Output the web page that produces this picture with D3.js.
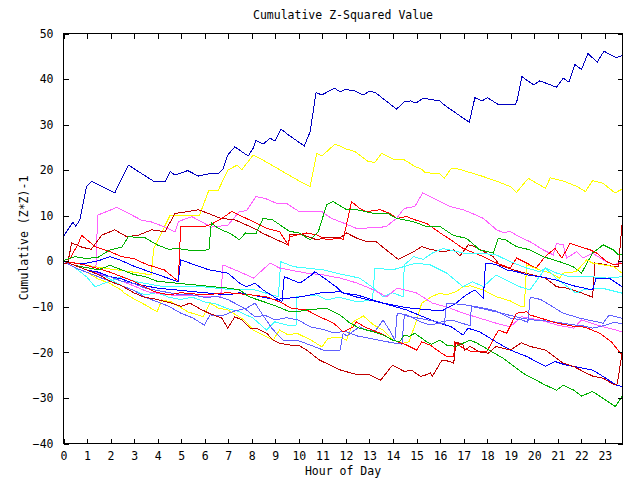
<!DOCTYPE html>
<html><head><meta charset="utf-8">
<script src="https://cdn.jsdelivr.net/npm/d3@7/dist/d3.min.js"></script>
<style>body{margin:0;background:#fff}svg{display:block}</style>
</head><body>
<svg id="chart" width="640" height="480"></svg>
<script>
const chartTitle = "Cumulative Z-Squared Value";
const xTitle = "Hour of Day";
const yTitle = "Cumulative (Z*Z)-1";
const hourTicks = d3.range(0, 24);
const valueTicks = [50, 40, 30, 20, 10, 0, -10, -20, -30, -40];

// each series: [hour, cumulative value]
const navy = [[0,5.2],[0.42,8.5],[0.54,7.6],[0.72,9],[1.0,16.3],[1.22,17.4],[2.2,14.9],[2.78,21],[3.9,17.3],[4.33,17.3],[4.55,19.6],[4.76,18.8],[5.3,19.8],[5.75,18.6],[6.3,19.2],[6.6,19.1],[6.8,20.1],[7.0,23.2],[7.3,25],[7.87,23],[8.08,24.7],[8.2,26.4],[8.5,25.6],[8.8,26.9],[9.0,26.3],[9.26,28.9],[9.64,27.4],[10.25,25.2],[10.5,28.3],[10.75,36.9],[11.0,36.4],[11.53,37.9],[11.77,37.1],[12.0,37.6],[12.4,37.3],[12.76,36.4],[13.04,37.3],[13.3,36.8],[14.17,33.3],[14.5,34.9],[14.77,35.1],[15.0,34.6],[15.3,35.7],[16.0,35.1],[16.2,34.2],[17.26,30.4],[17.5,35.8],[17.8,35.1],[18.03,35.8],[18.5,34.3],[19.2,34.3],[19.27,34.7],[19.5,40.4],[20.0,38.6],[20.26,39.5],[20.97,38.1],[21.25,40.1],[21.5,39.2],[21.75,43.1],[22.03,42.0],[22.3,45.5],[22.7,43.6],[22.98,46],[23.5,44.6],[23.75,45]];
const yellowHi = [[0,0],[1,-1],[2,-1.8],[3,-2.5],[3.75,-3.1],[3.85,2.6],[4.55,10],[5.8,10],[6.2,15.5],[6.6,15.5],[7.0,19.9],[7.4,21],[7.6,20],[8.08,23.2],[8.5,22.1],[10.07,17.4],[10.5,16.3],[10.78,23.6],[11.0,23],[11.55,25.6],[11.77,25.2],[12.05,24.5],[12.4,24],[12.97,21.8],[13.25,21.6],[13.54,23.6],[14.03,22.3],[14.46,22.3],[14.95,20.7],[15.24,20.1],[15.4,19.3],[16.0,19.2],[16.2,18.1],[16.5,20.3],[16.7,20.3],[17.85,18.5],[18.56,17.2],[19.0,16.3],[19.27,15],[19.77,18.1],[20.5,15.9],[20.7,18.2],[21.25,17.5],[21.8,16.4],[22.2,15.2],[22.5,17.6],[22.95,17],[23.45,14.9],[23.75,15.7]];
const pinkHi = [[0,0],[0.5,-0.5],[1,-1],[1.4,-1.5],[1.47,10],[2.28,11.7],[2.5,11.2],[3.34,8.9],[3.77,8.5],[4.33,7.4],[4.76,6.3],[4.9,8.6],[5.47,9.7],[6.3,7.4],[7.0,7.8],[7.5,10.8],[7.8,11],[8.2,14.1],[8.58,13.7],[9.08,12.6],[9.5,12.6],[10.0,10.9],[11.0,10.8],[11.4,9.3],[11.77,8.6],[12.47,7.1],[13.47,7.3],[13.75,7.6],[14.17,9.3],[14.5,11.5],[14.95,11.9],[15.28,14.9],[15.6,14.1],[16.45,11.9],[17.0,11.2],[17.57,10.0],[17.86,9.3],[18.42,6.8],[18.7,6.2],[19.0,6.4],[19.41,5.2],[19.84,4.2],[20.4,2.4],[20.83,1.3],[20.97,3.8],[21.25,3.5],[21.4,0.6],[21.82,2],[22.1,0.6],[22.5,1.7],[22.95,0.2],[23.4,-0.9],[23.75,-0.2]];
const yellowLo = [[0,0],[0.5,-1.5],[1,-2.5],[1.5,-4],[2,-5],[2.5,-6.5],[2.6,-7.1],[3.1,-8.6],[3.5,-9.7],[4.0,-11.2],[4.2,-8.6],[4.6,-9],[5.3,-11.2],[5.96,-12.3],[6.25,-9.3],[6.6,-10.4],[7.0,-10.8],[7.7,-13],[8.08,-15.2],[8.93,-17.4],[9.2,-15.2],[9.57,-16.3],[9.93,-15.9],[10.5,-17.3],[11,-18.9],[11.27,-17],[11.77,-16.8],[12.05,-17.4],[12.33,-13.4],[12.76,-12.1],[13.2,-14.1],[13.6,-15.2],[14.03,-17.4],[14.46,-18.1],[14.7,-17.8],[15.03,-13],[15.24,-9.3],[15.66,-7.9],[16.0,-7.1],[16.3,-7.5],[16.7,-6.8],[17.0,-5.7],[17.3,-5.5],[17.86,-6.4],[18.42,-7.9],[19.0,-8.8],[19.48,-10.1],[19.6,-10],[19.7,-0.9],[20.26,-2],[20.7,-2.7],[21.1,-3.8],[21.25,-2.7],[21.8,-2.4],[22.25,0.2],[22.5,-0.5],[22.95,-0.9],[23.4,-1.3],[23.75,-2.7]];
const darkRedHi = [[0,-0.5],[0.2,-0.5],[0.37,3.9],[0.8,3],[1.2,2.5],[1.64,5.6],[2.2,6.8],[2.7,5.3],[3.2,5.6],[3.77,6.8],[4.33,6.4],[4.76,10.4],[5.3,10.8],[5.75,11.2],[6.17,10.4],[6.7,9.3],[7.3,9],[7.73,8],[8.16,7],[8.5,6],[9.08,4.6],[9.57,3.5],[9.64,5.7],[10.2,5.7],[10.78,4.6],[11.2,5.2],[11.77,5],[12.05,6.1],[12.47,5],[12.9,4.2],[13.3,4.2],[13.9,1.7],[14.25,0.3],[14.46,0.9],[14.9,2],[15.24,3.1],[15.6,2.5],[16.15,2],[16.6,2.4],[16.87,1.1],[17.22,3.5],[17.45,3.2],[18.28,0.9],[18.56,-1],[19.13,-2],[19.5,-2.5],[20.5,-3.8],[20.97,-5.7],[21.4,-6],[22,-7],[22.5,-8],[22.6,-0.5],[23.0,-0.8],[23.4,-1.3],[23.6,-1.3],[23.75,7.9]];
const darkRedLo = [[0,0],[0.5,-1],[1,-2],[1.5,-3],[2,-4.5],[2.5,-5.5],[3,-7],[3.4,-7.9],[4.0,-8.5],[4.6,-9.3],[5.0,-10],[5.4,-9.3],[5.8,-10.5],[6.2,-11.5],[6.75,-12.6],[7.0,-14.8],[7.3,-12.3],[7.6,-13],[7.95,-14.8],[8.2,-14.8],[8.65,-15.9],[8.93,-17.4],[9.2,-18.1],[9.64,-18.5],[10.0,-18.5],[10.35,-19.6],[10.9,-21.8],[11.8,-24],[12.5,-25],[13.0,-25],[13.5,-26.2],[14.0,-22.9],[14.5,-24.3],[14.8,-24],[15.2,-25.4],[15.45,-25],[15.6,-24.6],[15.7,-25.3],[16.1,-21.8],[16.45,-22.1],[16.6,-22.5],[16.7,-17.8],[17.0,-18.5],[17.07,-19.6],[17.3,-18.8],[17.7,-20],[18.07,-20.3],[18.4,-18.8],[19.0,-19.6],[19.48,-18],[19.84,-18.8],[20.5,-19.6],[20.97,-21.4],[21.25,-22.5],[21.7,-23.2],[22.1,-24.3],[22.5,-25.3],[22.95,-25.8],[23.45,-27.3],[23.55,-27],[23.75,-20.3]];
const redHi = [[0,0],[0.3,0.5],[0.65,3.8],[0.79,5.6],[1.36,3.1],[2.0,2],[2.5,0.9],[3.0,0.5],[3.6,-0.9],[4.3,-2],[4.9,-4.5],[5.0,7.5],[5.47,7.5],[6.0,7.5],[6.3,8],[6.8,9.5],[7.17,10.8],[7.5,10],[8.08,8.6],[8.65,7.1],[9.2,6.4],[9.57,3.5],[9.64,5.3],[10.35,6.1],[10.78,5.7],[11.2,4.6],[11.77,5],[11.9,4.6],[12.26,13],[12.6,11.5],[12.9,10.8],[13.47,11.2],[13.9,10.4],[14.17,9.3],[14.6,9.7],[15.0,8.9],[15.45,8.2],[16.0,6.2],[16.5,4.5],[17.0,2.7],[17.86,0.9],[18.42,-0.5],[19.0,-1.6],[19.27,0.6],[19.7,-0.5],[20.1,-1.6],[20.48,0.9],[20.9,2.7],[21.2,0.6],[21.54,3.8],[21.96,3.1],[22.4,2.4],[22.67,1.7],[23.1,-0.2],[23.4,-0.9],[23.75,-0.5]];
const redLo = [[0,0],[1,-1],[2,-2.5],[3,-4.5],[3.9,-6.8],[4.5,-7.5],[5,-7],[6,-7.5],[7,-7],[8.0,-7.5],[8.65,-7.9],[9.2,-9],[9.7,-10.4],[10.35,-10.8],[10.9,-12.3],[11.5,-13.7],[11.9,-15.6],[12.33,-14.5],[12.47,-13.4],[12.8,-14.5],[13.47,-15.9],[14.03,-17.4],[14.6,-18.5],[15.03,-19.6],[15.24,-17.8],[15.6,-18.5],[16.0,-20],[16.3,-21],[16.6,-21],[16.65,-17.8],[17.0,-19.2],[17.4,-20],[18.0,-20],[18.5,-15.2],[18.85,-15.9],[19.27,-11.5],[19.7,-11.2],[19.84,-11.9],[20.3,-12.6],[21.0,-13.7],[21.6,-14.3],[22.2,-14.6],[22.8,-15.9],[23.3,-17.8],[23.75,-20.7]];
const greenHi = [[0,0],[0.5,0.9],[1,0.5],[1.5,0.8],[2,2.4],[2.5,3],[2.78,5.3],[3.5,5],[4.0,3.5],[4.55,2.4],[4.76,2.8],[5.5,2.2],[6.2,2.4],[6.3,8.3],[6.6,7.1],[7.1,6],[7.5,4.6],[7.75,6.1],[8.2,6],[8.5,9.3],[8.9,9.0],[9.64,6.4],[10.0,6.2],[10.5,4.6],[10.85,6.4],[11.2,12.3],[11.48,13.0],[12.05,11.2],[12.5,11.2],[13.2,10.4],[13.8,10.4],[14.17,9.3],[14.88,8.6],[15.45,7.5],[16.0,7.6],[16.58,5.6],[17.15,4.9],[17.4,3.8],[17.7,2.4],[18.28,1.7],[18.49,4.9],[18.8,4.6],[19.27,3.1],[19.84,2.4],[20.4,0.9],[21.1,-0.2],[21.68,-1.3],[22.03,-2.7],[22.5,1.7],[22.95,3.5],[23.38,2.4],[23.59,1.3],[23.75,1.5]];
const greenLo = [[0,0],[0.5,-1],[1,-1.5],[1.5,-2],[2,-1],[2.5,-2],[3,-3],[3.5,-3.5],[4,-4.5],[5,-5],[6,-5.5],[7,-6],[7.5,-6.4],[7.9,-7.9],[8.93,-9.7],[9.64,-11.2],[9.93,-11.2],[10.35,-10.8],[11.2,-10.4],[11.77,-11.9],[12.2,-13.7],[12.6,-14.8],[13.2,-15.6],[13.6,-16.3],[14.0,-17.4],[14.3,-17.8],[14.5,-16.3],[14.7,-16.6],[14.95,-15.9],[15.45,-17.8],[15.66,-18.3],[16.0,-17.4],[16.3,-18.5],[16.7,-18.8],[17.3,-17.4],[17.6,-18.1],[18.1,-19.6],[18.7,-21.4],[19.55,-24.7],[20.1,-26.2],[20.5,-27.3],[20.97,-28.4],[21.25,-27.3],[21.7,-28.4],[22.03,-29.7],[22.5,-28.7],[22.95,-30.2],[23.47,-32],[23.75,-29.8]];
const blueA = [[0,0],[0.5,-0.5],[1,-0.5],[1.5,0],[2.0,0.9],[2.5,0],[3.06,-1.3],[4,-3],[4.9,-4.6],[5.0,0.2],[5.6,-0.9],[6.2,-2],[7.0,-2.7],[7.5,-4.9],[7.8,-5.7],[8.16,-4.9],[8.5,-6.4],[9.3,-9],[9.4,-3.5],[10.07,-4.9],[10.56,-3.1],[10.7,-2.4],[11.1,-3.8],[11.6,-5.7],[11.9,-7.1],[12.5,-7.5],[13.6,-9.3],[14.6,-10.3],[15.6,-10.8],[16.1,-11],[16.7,-9.3],[17.1,-7.6],[17.5,-6.4],[17.86,-8.2],[17.95,-0.5],[18.4,-0.8],[18.85,-2],[19.27,-2.4],[19.7,-3.1],[20.3,-3.5],[21,-4.3],[21.7,-5.5],[22.5,-6.4],[22.65,-3.8],[23.2,-3.8],[23.75,-5.7]];
const blueB = [[0,0],[0.5,-1],[1,-2],[1.5,-2.5],[2,-3.5],[2.5,-4],[3,-5],[3.5,-5.5],[4,-6],[5,-6.5],[6,-7],[7,-7.5],[7.5,-7],[8.5,-8],[9,-8.5],[10,-8],[11,-7],[11.77,-6.8],[12.5,-8],[13.6,-9.3],[14.6,-10.8],[15.4,-12.5],[16,-13.7],[16.5,-14.5],[17,-16.3],[17.2,-14.8],[17.7,-15.6],[18.4,-17.8],[19,-19.6],[19.7,-21],[20.5,-23.2],[20.9,-22.1],[21.3,-22.8],[22.5,-24],[22.95,-25.4],[23.5,-27.3],[23.75,-27.6]];
const lavenderA = [[0,0],[0.5,-1.5],[1,-2.5],[1.5,-3.5],[2,-4.5],[2.5,-5.5],[3,-6.5],[3.5,-8],[4,-9],[4.5,-10],[5,-11.5],[5.5,-12.5],[6.0,-14.1],[6.25,-11.9],[6.8,-12],[7.3,-11],[7.8,-10.4],[8.16,-9.3],[8.5,-12],[8.9,-15],[9.35,-17.4],[9.93,-17.4],[10.5,-18.5],[11.06,-19.6],[11.77,-19.6],[11.9,-15.9],[12.05,-16.5],[12.6,-14.5],[12.9,-15.2],[13.3,-15.2],[13.6,-13],[13.9,-15.5],[14.1,-17.4],[14.2,-11.5],[14.6,-11.9],[15.2,-13.4],[15.6,-14.1],[16.0,-13.7],[16.2,-13.9],[16.3,-9.3],[17.0,-9.6],[17.7,-10.2],[18.4,-11],[19.0,-12.6],[19.5,-13],[19.75,-13.5],[19.85,-8],[20.3,-8.5],[21.25,-11.5],[21.96,-12.6],[22.95,-13.7],[23.2,-11.9],[23.75,-12.6]];
const lavenderB = [[0,0],[0.5,-1],[1,-2],[1.5,-3],[2,-3.5],[2.5,-4.5],[3,-5],[3.5,-6],[4,-6.5],[4.5,-7],[5,-7.5],[5.5,-7.5],[6.0,-8],[6.6,-7.9],[7,-8.5],[7.7,-10.4],[8.16,-12.3],[8.6,-12],[9.0,-13],[9.5,-12.5],[10,-13],[10.5,-14.5],[11,-15],[11.5,-15.8],[12,-15.5],[12.5,-16.5],[13,-17],[13.5,-17.5],[14,-18],[14.4,-18.3],[14.5,-12],[15,-12.5],[15.5,-13],[16,-13.5],[16.5,-13],[17,-13.8],[17.3,-14.2],[17.35,-10],[17.8,-10.5],[18.4,-11.2],[19,-12],[19.5,-12.6],[20,-13],[20.5,-13.2],[21,-13.5],[21.6,-14],[22.1,-14.3],[22.5,-14.8],[23,-14.2],[23.4,-13.5],[23.75,-13.8]];
const cyanA = [[0,0],[0.5,-1],[1,-2],[1.5,-2.5],[2,-4],[2.5,-5.5],[3,-6.5],[3.5,-7.5],[4,-7],[4.5,-8],[5,-8.5],[5.5,-8],[6,-9],[6.5,-9.5],[7,-10.5],[7.5,-11.2],[8.08,-12.6],[8.65,-15.2],[9.0,-13.4],[9.5,-14.1],[9.9,-14.1],[9.93,-7.9],[10.78,-7.5],[11.2,-8.6],[11.7,-8],[12.5,-9],[13.15,-8.6],[13.25,-1.6],[14,-2],[15,-0.5],[15.6,-0.9],[16.3,-2.7],[17,-5.7],[17.4,-4.6],[17.86,-5.7],[18.4,-3.1],[19.4,-5.7],[19.84,-6.4],[20.5,-1.6],[21,-4],[21.8,-7.1],[22.1,-6.4],[22.9,-6],[23.75,-7.1]];
const cyanB = [[0,0],[0.5,-1.5],[1,-3.5],[1.36,-5.7],[2.5,-3.5],[3.1,-4.6],[4.3,-5.7],[5.9,-5.7],[7.3,-6.4],[8.16,-6.4],[9.15,-7.9],[9.25,-0.2],[9.8,-1.3],[10.35,-1.6],[11.06,-2],[11.6,-2.7],[12.6,-3.8],[13.2,-6],[13.6,-7.9],[14,-7],[14.45,-7.9],[14.5,-0.9],[14.9,0.9],[15.3,0.3],[15.7,1.7],[16.15,2.7],[17,1.7],[17.7,1.7],[18.4,1.3],[19,-0.2],[19.7,-1.6],[20.26,-2.4],[20.5,-1.6],[20.97,-2.7],[21.54,-3.5],[22.4,-3.5],[23.1,-3.8],[23.75,-3.5]];
const pinkLo = [[0,0],[1,-2],[2,-3.5],[3,-5.5],[3.6,-6.8],[4.5,-7.5],[6.7,-7.9],[6.8,-0.9],[7.5,-2.4],[8.1,-3.8],[8.8,-0.5],[9.2,-1.6],[10.35,-2.7],[11.06,-3.1],[11.77,-3.8],[12.5,-4.9],[13.2,-6.4],[13.75,-7.9],[14.2,-6],[15,-7],[15.7,-9.3],[16.45,-10.4],[17,-11.5],[17.7,-12.6],[18.4,-13.7],[19,-14.5],[19.48,-12.3],[20.26,-13],[21,-14.1],[21.7,-14.8],[22.03,-13],[22.95,-14.5],[23.5,-15.2],[23.75,-15.6]];

const seriesList = [navy, yellowHi, pinkHi, darkRedHi, redHi, greenHi, yellowLo, cyanA, cyanB, pinkLo, blueA, blueB, lavenderA, lavenderB, redLo, greenLo, darkRedLo];
const seriesColors = ["#0000c0","#ffff00","#ff60ff","#c00000","#ff0000","#00b000","#ffff00","#40ffff","#40ffff","#ff60ff","#0000ff","#0000ff","#6060ff","#6060ff","#ff0000","#00b000","#c00000"];

const svg = d3.select("#chart");
svg.append("rect").attr("width",640).attr("height",480).attr("fill","#fff");
const L = 63, R = 622, T = 33, B = 443;
const x = d3.scaleLinear().domain([0, 23.75]).range([L, R]);
const y = d3.scaleLinear().domain([-40, 50]).range([B, T]);
const font = "'DejaVu Sans Mono', monospace";

const line = d3.line().x(d => x(d[0])).y(d => y(d[1]));
const gLines = svg.append("g");
seriesList.forEach((s, i) => {
  gLines.append("path").attr("d", line(s)).attr("fill","none")
    .attr("stroke", seriesColors[i]).attr("stroke-width",1).attr("shape-rendering","crispEdges");
});

svg.append("rect").attr("x",L+0.5).attr("y",T+0.5).attr("width",R-L).attr("height",B-T)
  .attr("fill","none").attr("stroke","#000").attr("stroke-width",1).attr("shape-rendering","crispEdges");

const tl = 5;
const axB = svg.append("g").attr("transform",`translate(0.5,${B+0.5})`)
  .call(d3.axisBottom(x).tickValues(hourTicks).tickSize(-tl).tickPadding(8).tickFormat(d3.format("d")));
const axT = svg.append("g").attr("transform",`translate(0.5,${T+0.5})`)
  .call(d3.axisTop(x).tickValues(hourTicks).tickSize(-tl).tickFormat(""));
const axL = svg.append("g").attr("transform",`translate(${L+0.5},0.5)`)
  .call(d3.axisLeft(y).tickValues(valueTicks).tickSize(-tl).tickPadding(10).tickFormat(d3.format("d")));
const axRt = svg.append("g").attr("transform",`translate(${R+0.5},0.5)`)
  .call(d3.axisRight(y).tickValues(valueTicks).tickSize(-tl).tickFormat(""));
[axB,axT,axL,axRt].forEach(g => {
  g.select(".domain").remove();
  g.selectAll("line").attr("stroke","#000").attr("shape-rendering","crispEdges");
  g.selectAll("text").attr("fill","#000").style("font-family",font).style("font-size","11.5px");
});

svg.append("text").attr("x",343).attr("y",19).attr("text-anchor","middle")
  .style("font-family",font).style("font-size","11.5px").text(chartTitle);
svg.append("text").attr("x",343).attr("y",475).attr("text-anchor","middle")
  .style("font-family",font).style("font-size","11.5px").text(xTitle);
svg.append("text").attr("transform","translate(28,238) rotate(-90)").attr("text-anchor","middle")
  .style("font-family",font).style("font-size","11.5px").text(yTitle);
</script>
</body></html>
